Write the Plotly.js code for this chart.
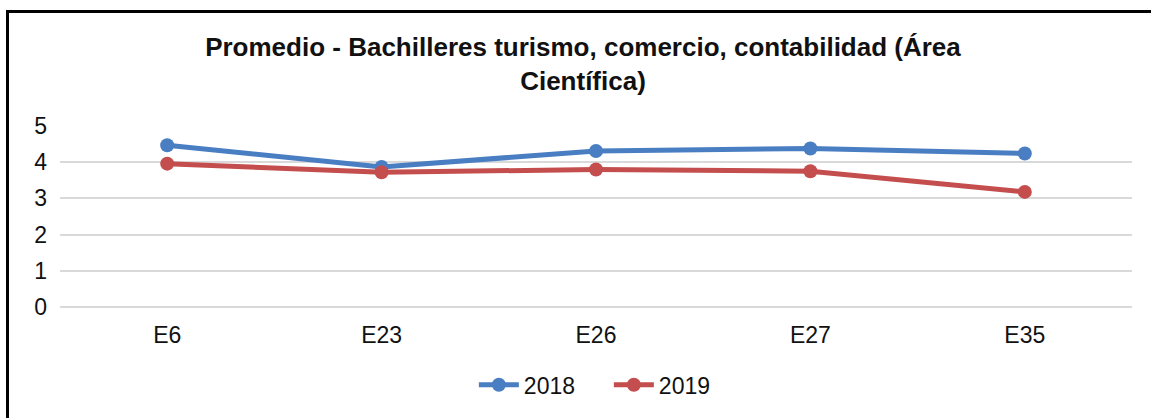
<!DOCTYPE html>
<html>
<head>
<meta charset="utf-8">
<script src="https://cdn.plot.ly/plotly-3.0.1.min.js"></script>
<style>
  body { margin: 0; background: #fff; }
  #frame { position: absolute; left: 6px; top: 10px; width: 1160px; height: 420px;
           border-left: 3px solid #000; border-top: 3px solid #000; box-sizing: border-box; pointer-events: none; z-index: 5; }
  #chart { position: absolute; left: 0; top: 0; width: 1151px; height: 418px; }
</style>
</head>
<body>
<div id="chart"></div>
<div id="frame"></div>
<script>
const categories = ["E6", "E23", "E26", "E27", "E35"];
const values2018 = [4.47, 3.87, 4.31, 4.38, 4.24];
const values2019 = [3.96, 3.72, 3.80, 3.75, 3.18];
const seriesNames = ["2018", "2019"];
const yTicks = [0, 1, 2, 3, 4, 5];

const font = "Liberation Sans, Arial, sans-serif";

const traces = [
  { x: categories, y: values2018, name: seriesNames[0], type: "scatter", mode: "lines+markers",
    line: { color: "#4a7ec2", width: 5 }, marker: { color: "#4a7ec2", size: 14 } },
  { x: categories, y: values2019, name: seriesNames[1], type: "scatter", mode: "lines+markers",
    line: { color: "#c44e4d", width: 5 }, marker: { color: "#c44e4d", size: 14 } }
];

const layout = {
  width: 1151, height: 418,
  margin: { l: 60, r: 19, t: 126, b: 111 },
  paper_bgcolor: "#fff", plot_bgcolor: "#fff",
  font: { family: font, color: "#111", size: 23 },
  title: { text: "<b>Promedio - Bachilleres turismo, comercio, contabilidad (Área<br>Científica)</b>",
           font: { family: font, size: 26, color: "#111" }, x: 0.5065, xanchor: "center", y: 0.866, yanchor: "middle" },
  xaxis: { type: "category", showline: false, showgrid: false, ticks: "", tickfont: { size: 23, color: "#111" },
           range: [-0.5, 4.5], fixedrange: true, ticklabelstandoff: 12 },
  yaxis: { range: [0, 5], tickvals: yTicks, showgrid: true, gridcolor: "#d9d9d9", gridwidth: 2,
           zeroline: true, zerolinecolor: "#d9d9d9", zerolinewidth: 2, showline: false, ticks: "",
           tickfont: { size: 23, color: "#111" }, ticklabelstandoff: 12, fixedrange: true },
  showlegend: true,
  legend: { orientation: "h", x: 0.512, xanchor: "center", y: -0.43, yanchor: "middle",
            font: { size: 23, color: "#111" }, itemwidth: 40, tracegroupgap: 0, entrywidth: 80 }
};

Plotly.newPlot("chart", traces, layout, { displayModeBar: false, staticPlot: true });
</script>
</body>
</html>
